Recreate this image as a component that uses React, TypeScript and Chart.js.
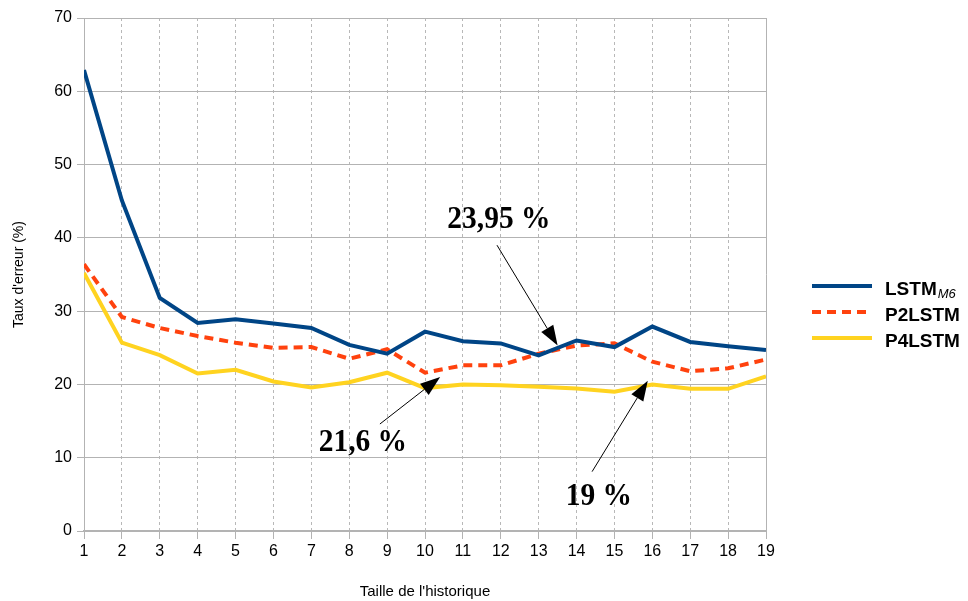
import React, { useEffect, useRef } from "react";
import { Chart, registerables } from "chart.js";

Chart.register(...registerables);

const historySizes = [1, 2, 3, 4, 5, 6, 7, 8, 9, 10, 11, 12, 13, 14, 15, 16, 17, 18, 19];
const lstmM6 = [62.9, 45.1, 31.8, 28.4, 28.9, 28.3, 27.7, 25.4, 24.2, 27.2, 25.9, 25.6, 23.95, 26.0, 25.1, 27.9, 25.8, 25.2, 24.7];
const p2lstm = [36.4, 29.2, 27.7, 26.6, 25.7, 25.0, 25.1, 23.5, 24.8, 21.6, 22.6, 22.6, 24.2, 25.3, 25.6, 23.1, 21.8, 22.2, 23.4];
const p4lstm = [35.2, 25.7, 24.0, 21.5, 22.0, 20.4, 19.6, 20.3, 21.6, 19.5, 20.0, 19.9, 19.7, 19.45, 19.0, 20.0, 19.4, 19.4, 21.1];
const yTicks = [0, 10, 20, 30, 40, 50, 60, 70];

const seriesNames = ["LSTM", "P2LSTM", "P4LSTM"];
const seriesSubs = ["M6", "", ""];
const seriesColors = ["#004586", "#ff420e", "#ffd320"];
const seriesDash: number[][] = [[], [9, 6], []];

// annotations: label, text centre (x,y), arrow start (x,y), arrow end (x,y) in data units
const annotLabels = ["23,95 %", "21,6 %", "19 %"];
const annotText = [[11.95, 42.4], [8.36, 12.0], [14.59, 4.7]];
const annotFrom = [[11.9, 39.0], [8.81, 14.6], [14.41, 8.1]];
const annotTo = [[13.5, 25.3], [10.4, 21.0], [15.88, 20.5]];

const overlayPlugin = {
  id: "overlay",
  beforeDatasetsDraw(chart: any) {
    const { ctx, chartArea } = chart;
    ctx.save();
    ctx.strokeStyle = "#b3b3b3";
    ctx.lineWidth = 1;
    ctx.beginPath();
    ctx.moveTo(Math.round(chartArea.right) + 0.5, chartArea.top);
    ctx.lineTo(Math.round(chartArea.right) + 0.5, chartArea.bottom);
    ctx.stroke();
    ctx.restore();
  },
  afterDraw(chart: any) {
    const { ctx } = chart;
    const xs = chart.scales.x;
    const ys = chart.scales.y;
    ctx.save();
    // annotations
    for (let i = 0; i < annotLabels.length; i++) {
      const tx = xs.getPixelForValue(annotText[i][0]);
      const ty = ys.getPixelForValue(annotText[i][1]);
      ctx.save();
      ctx.translate(tx, ty);
      ctx.scale(0.95, 1);
      ctx.font = "bold 31px 'Liberation Serif', 'DejaVu Serif', serif";
      ctx.fillStyle = "#000";
      ctx.textAlign = "center";
      ctx.textBaseline = "middle";
      ctx.fillText(annotLabels[i], 0, 0);
      ctx.restore();

      const x0 = xs.getPixelForValue(annotFrom[i][0]);
      const y0 = ys.getPixelForValue(annotFrom[i][1]);
      const x1 = xs.getPixelForValue(annotTo[i][0]);
      const y1 = ys.getPixelForValue(annotTo[i][1]);
      const ang = Math.atan2(y1 - y0, x1 - x0);
      const headLen = 20;
      const headW = 7;
      const bx = x1 - headLen * Math.cos(ang);
      const by = y1 - headLen * Math.sin(ang);
      ctx.strokeStyle = "#000";
      ctx.lineWidth = 1;
      ctx.beginPath();
      ctx.moveTo(x0, y0);
      ctx.lineTo(bx, by);
      ctx.stroke();
      ctx.fillStyle = "#000";
      ctx.beginPath();
      ctx.moveTo(x1, y1);
      ctx.lineTo(bx + headW * Math.sin(ang), by - headW * Math.cos(ang));
      ctx.lineTo(bx - headW * Math.sin(ang), by + headW * Math.cos(ang));
      ctx.closePath();
      ctx.fill();
    }
    // legend
    const lx = 812;
    const ly = [286, 312, 338];
    for (let i = 0; i < seriesNames.length; i++) {
      ctx.strokeStyle = seriesColors[i];
      ctx.lineWidth = 4;
      ctx.lineCap = "butt";
      ctx.setLineDash(seriesDash[i]);
      ctx.beginPath();
      ctx.moveTo(lx, ly[i]);
      ctx.lineTo(lx + 60, ly[i]);
      ctx.stroke();
      ctx.setLineDash([]);
      ctx.fillStyle = "#000";
      ctx.textAlign = "left";
      ctx.textBaseline = "alphabetic";
      ctx.font = "bold 19px 'Liberation Sans', Arial, sans-serif";
      ctx.fillText(seriesNames[i], 885, ly[i] + 9);
      if (seriesSubs[i]) {
        const w = ctx.measureText(seriesNames[i]).width;
        ctx.font = "italic 13px 'Liberation Sans', Arial, sans-serif";
        ctx.fillText(seriesSubs[i], 885 + w + 1, ly[i] + 12);
      }
    }
    ctx.restore();
  },
};

export default function App() {
  const canvasRef = useRef<HTMLCanvasElement | null>(null);

  useEffect(() => {
    document.body.style.margin = "0";
    const canvas = canvasRef.current;
    if (!canvas) return;
    const makeData = (vals: number[]) => historySizes.map((x, i) => ({ x, y: vals[i] }));
    const chart = new Chart(canvas, {
      type: "line",
      data: {
        datasets: [lstmM6, p2lstm, p4lstm].map((vals, i) => ({
          label: seriesNames[i],
          data: makeData(vals),
          borderColor: seriesColors[i],
          backgroundColor: seriesColors[i],
          borderWidth: 4,
          borderDash: seriesDash[i],
          borderCapStyle: "butt",
          borderJoinStyle: "miter",
          pointRadius: 0,
          tension: 0,
          fill: false,
        })),
      },
      options: {
        animation: false,
        responsive: false,
        maintainAspectRatio: false,
        layout: { padding: { top: 18, right: 202, left: 0, bottom: 0 } },
        plugins: { legend: { display: false }, tooltip: { enabled: false } },
        scales: {
          x: {
            type: "linear",
            min: 1,
            max: 19,
            afterFit: (s: any) => { s.height = 70; },
            ticks: {
              stepSize: 1,
              color: "#000",
              font: { family: "'Liberation Sans', Arial, sans-serif", size: 16 },
              padding: 3,
              maxRotation: 0,
            },
            grid: {
              color: "#b8b8b8",
              lineWidth: 1,
              tickLength: 8,
              tickColor: "#b3b3b3",
              tickBorderDash: [],
            },
            border: { display: true, color: "#b3b3b3", width: 2, dash: [3, 3] },
            title: {
              display: true,
              text: "Taille de l'historique",
              color: "#000",
              font: { family: "'Liberation Sans', Arial, sans-serif", size: 15 },
              padding: { top: -2, bottom: 0 },
            },
          },
          y: {
            min: 0,
            max: 70,
            afterFit: (s: any) => { s.width = 84; },
            afterBuildTicks: (s: any) => { s.ticks = yTicks.map((v) => ({ value: v })); },
            ticks: {
              color: "#000",
              font: { family: "'Liberation Sans', Arial, sans-serif", size: 16 },
              padding: 5,
            },
            grid: { color: "#b3b3b3", lineWidth: 1, tickLength: 7, tickColor: "#b3b3b3" },
            border: { display: true, color: "#b3b3b3", width: 1 },
            title: {
              display: true,
              text: "Taux d'erreur (%)",
              color: "#000",
              font: { family: "'Liberation Sans', Arial, sans-serif", size: 14 },
              padding: { top: 11, bottom: 4 },
            },
          },
        },
      },
      plugins: [overlayPlugin],
    } as any);
    return () => chart.destroy();
  }, []);

  return <canvas ref={canvasRef} width={968} height={601} style={{ width: 968, height: 601, display: "block" }} />;
}
